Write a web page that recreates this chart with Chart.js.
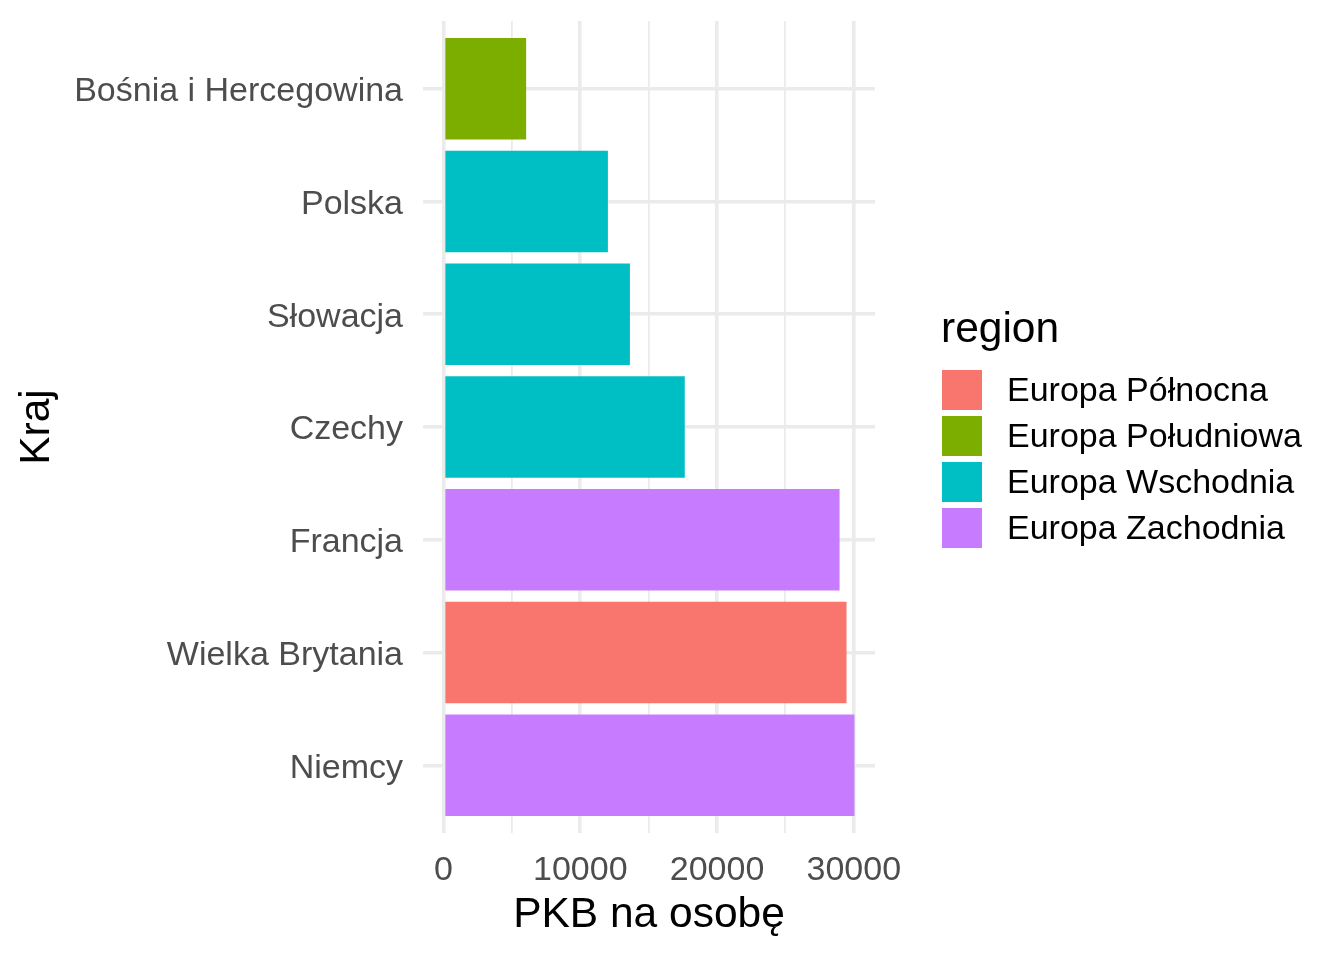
<!doctype html>
<html lang="pl">
<head>
    <meta charset="utf-8">
    <title>PKB na osobę</title>
    <script src="https://cdn.jsdelivr.net/npm/chart.js"></script>
    <style>
        html, body {
            margin: 0;
            padding: 0;
            background-color: #ffffff;
        }
        .chart-box {
            width: 1344px;
            height: 960px;
        }
    </style>
</head>
<body>
    <div class="chart-box">
        <canvas id="gdpChart"></canvas>
    </div>
    <script>
        const countries = ['Bośnia i Hercegowina', 'Polska', 'Słowacja', 'Czechy', 'Francja', 'Wielka Brytania', 'Niemcy'];
        const gdpPerCapita = [6040, 12020, 13630, 17640, 28960, 29470, 30050];
        const countryRegion = ['Europa Południowa', 'Europa Wschodnia', 'Europa Wschodnia', 'Europa Wschodnia',
            'Europa Zachodnia', 'Europa Północna', 'Europa Zachodnia'];
        const regions = ['Europa Północna', 'Europa Południowa', 'Europa Wschodnia', 'Europa Zachodnia'];
        const regionColors = ['#F8766D', '#7CAE00', '#00BFC4', '#C77CFF'];
        const xMajorTicks = [0, 10000, 20000, 30000];
        const xMinorTicks = [5000, 15000, 25000];
        const legendTitle = 'region';

        const FONT = '"Liberation Sans", Arial, sans-serif';
        const TICK_SIZE = 34;
        const TITLE_SIZE = 42.5;
        Chart.defaults.font.family = FONT;

        // ggplot-like 5% expansion on the value axis, 0.6 on the discrete axis
        const xMax = Math.max(...gdpPerCapita);
        const xPad = xMax * 0.05;

        const datasets = regions.map((region, k) => ({
            label: region,
            backgroundColor: regionColors[k],
            borderWidth: 0,
            barPercentage: 0.9,
            categoryPercentage: 1.0,
            data: countries
                .map((c, i) => ({ y: i, x: gdpPerCapita[i], region: countryRegion[i] }))
                .filter(d => d.region === region)
        }));

        const regionLegend = {
            id: 'regionLegend',
            afterDraw(chart) {
                const ctx = chart.ctx;
                ctx.save();
                ctx.fillStyle = '#000000';
                ctx.font = TITLE_SIZE + 'px ' + FONT;
                ctx.textBaseline = 'alphabetic';
                ctx.textAlign = 'left';
                ctx.fillText(legendTitle, 941, 342);
                ctx.font = TICK_SIZE + 'px ' + FONT;
                ctx.textBaseline = 'middle';
                regions.forEach((region, k) => {
                    const y = 370 + k * 46;
                    ctx.fillStyle = regionColors[k];
                    ctx.fillRect(942, y, 40, 40);
                    ctx.fillStyle = '#000000';
                    ctx.fillText(region, 1007, y + 22);
                });
                ctx.restore();
            }
        };

        // drop the label overhang padding so the plot area is where we put it
        function noEdgePadding(scale) {
            scale.paddingTop = 0;
            scale.paddingBottom = 0;
            scale.paddingLeft = 0;
            scale.paddingRight = 0;
        }

        const gdpChart = new Chart(document.getElementById('gdpChart').getContext('2d'), {
            type: 'bar',
            data: { datasets: datasets },
            plugins: [regionLegend],
            options: {
                indexAxis: 'y',
                responsive: true,
                maintainAspectRatio: false,
                animation: false,
                layout: { padding: { left: 0, right: 469, top: 21, bottom: 0 } },
                plugins: {
                    legend: { display: false },
                    tooltip: { enabled: true }
                },
                scales: {
                    x: {
                        type: 'linear',
                        stacked: true,
                        min: -xPad,
                        max: xMax + xPad,
                        afterBuildTicks: scale => {
                            scale.ticks = [...xMajorTicks, ...xMinorTicks]
                                .sort((a, b) => a - b)
                                .map(v => ({ value: v }));
                        },
                        afterFit: scale => {
                            scale.height = 127;
                            noEdgePadding(scale);
                        },
                        border: { display: false },
                        grid: {
                            color: '#EBEBEB',
                            drawTicks: false,
                            lineWidth: ctx => xMajorTicks.includes(ctx.tick && ctx.tick.value) ? 3.6 : 1.8
                        },
                        ticks: {
                            autoSkip: false,
                            maxRotation: 0,
                            padding: 17,
                            color: '#4D4D4D',
                            font: { size: TICK_SIZE },
                            callback: v => xMajorTicks.includes(v) ? String(v) : ''
                        },
                        title: {
                            display: true,
                            text: 'PKB na osobę',
                            color: '#000000',
                            font: { size: TITLE_SIZE },
                            padding: { top: 0, bottom: 19 }
                        }
                    },
                    y: {
                        type: 'linear',
                        stacked: true,
                        reverse: true,
                        offset: false,
                        min: -0.6,
                        max: countries.length - 1 + 0.6,
                        afterBuildTicks: scale => {
                            scale.ticks = countries.map((c, i) => ({ value: i }));
                        },
                        afterFit: scale => {
                            scale.width = 423;
                            noEdgePadding(scale);
                        },
                        border: { display: false },
                        grid: {
                            color: '#EBEBEB',
                            drawTicks: false,
                            offset: false,
                            lineWidth: 3.6
                        },
                        ticks: {
                            autoSkip: false,
                            padding: 20,
                            labelOffset: 3,
                            color: '#4D4D4D',
                            font: { size: TICK_SIZE },
                            callback: v => countries[v]
                        },
                        title: {
                            display: true,
                            text: 'Kraj',
                            color: '#000000',
                            font: { size: TITLE_SIZE },
                            padding: { top: 12, bottom: 0 }
                        }
                    }
                }
            }
        });
    </script>
</body>
</html>
